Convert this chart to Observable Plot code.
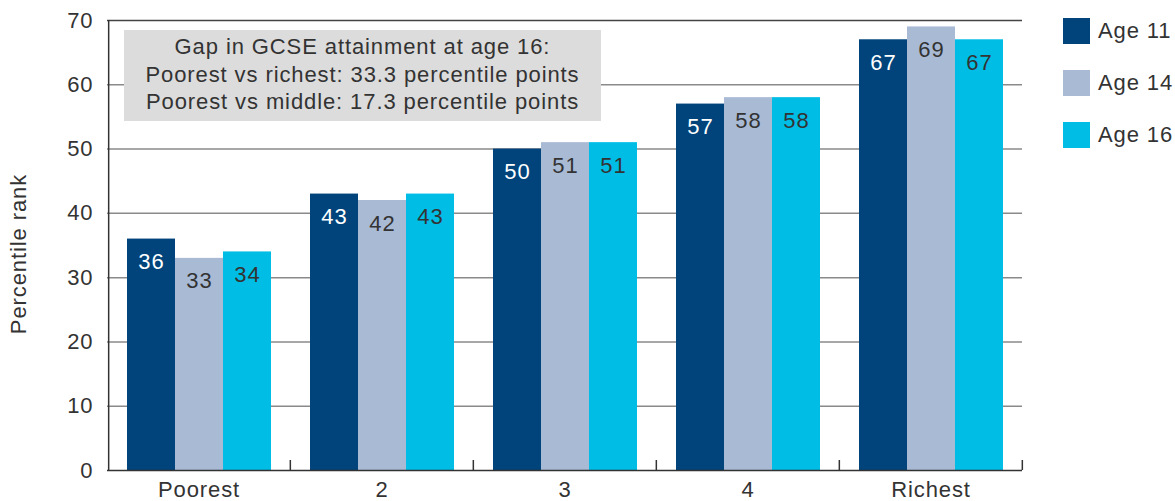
<!DOCTYPE html>
<html><head><meta charset="utf-8">
<script src="https://cdn.jsdelivr.net/npm/d3@7"></script>
<script src="https://cdn.jsdelivr.net/npm/@observablehq/plot@0.6"></script>
<style>
body{margin:0;background:#fff;font-family:"Liberation Sans",Arial,sans-serif;color:#333;}
#wrap{position:relative;width:1175px;height:501px;overflow:hidden;letter-spacing:0.9px}
#wrap svg{position:absolute;left:0;top:0}
#wrap svg text{letter-spacing:0.9px}
.note{position:absolute;left:124px;top:30px;width:477px;height:91px;background:#dcdcdc;text-align:center;font-size:22px;line-height:27.5px;padding-top:3px;box-sizing:border-box;color:#333;white-space:nowrap}
.ylab{position:absolute;left:19px;top:254px;transform:translate(-50%,-50%) rotate(-90deg);font-size:22px;white-space:nowrap;color:#333}
.leg{position:absolute;left:1063px;font-size:22px;color:#333;display:flex;align-items:center;height:26px;white-space:nowrap}
.leg span.sw{display:inline-block;width:27px;height:26px;margin-right:8px}
</style></head><body><div id="wrap"></div>
<script>
const groups = ["Poorest", "2", "3", "4", "Richest"];
const ages = ["Age 11", "Age 14", "Age 16"];
const age11 = [36, 43, 50, 57, 67];
const age14 = [33, 42, 51, 58, 69];
const age16 = [34, 43, 51, 58, 67];
const yTicks = [0, 10, 20, 30, 40, 50, 60, 70];
const noteLines = ["Gap in GCSE attainment at age 16:", "Poorest vs richest: 33.3 percentile points", "Poorest vs middle: 17.3 percentile points"];
const yLabel = "Percentile rank";

const colors = ["#00447b", "#a9bad5", "#00bde6"];
const labelColors = ["#ffffff", "#333333", "#333333"];

const series = [age11, age14, age16];
const data = [];
groups.forEach((g, i) => series.forEach((s, j) => data.push({group: g, age: ages[j], value: s[i]})));

const W = 1175, H = 501, ml = 107, mr = 153, mt = 20, mb = 31, pad = 0.38;
const fw = (W - ml - mr) / groups.length;
const step = fw / (ages.length + 2 * pad);
const edge = step * (0.5 + pad);
const pxPerUnit = (H - mt - mb) / (yTicks[yTicks.length - 1] - yTicks[0]);
const font = "'Liberation Sans', Arial, sans-serif";

const chart = Plot.plot({
  width: W, height: H,
  marginLeft: ml, marginRight: mr, marginTop: mt, marginBottom: mb,
  style: {fontFamily: font, fontSize: "22px", color: "#333", background: "transparent"},
  fx: {domain: groups, padding: 0, label: null, tickSize: 0, tickPadding: 11},
  x: {domain: ages, paddingInner: 0, paddingOuter: pad, axis: null},
  y: {domain: [0, 70], ticks: yTicks, tickSize: 0, tickPadding: 14, label: null},
  color: {domain: ages, range: colors},
  marks: [
    Plot.ruleY(yTicks.filter(v => v > 0 && v < 70), {stroke: "#8a8a8a", strokeWidth: 1.5}),
    Plot.ruleY([70], {stroke: "#444", strokeWidth: 1.5}),
    Plot.barY(data, {fx: "group", x: "age", y: "value", fill: "age"}),
    ...ages.map((a, j) => Plot.text(data.filter(d => d.age === a), {
      fx: "group", x: "age", y: "value", text: d => String(d.value),
      dy: 23, fill: labelColors[j], fontSize: 22, fontFamily: font
    })),
    Plot.ruleY([0], {stroke: "#333", strokeWidth: 1.5}),
    Plot.ruleX([groups[0]], {fx: d => d, x: () => ages[0], dx: -edge, y1: 0, y2: 70, stroke: "#333", strokeWidth: 1.5}),
    Plot.ruleX(groups, {fx: d => d, x: () => ages[ages.length - 1], dx: edge, y1: 0, y2: 10 / pxPerUnit, stroke: "#333", strokeWidth: 1.5})
  ]
});

const wrap = document.getElementById("wrap");
wrap.appendChild(chart);

const note = document.createElement("div");
note.className = "note";
note.innerHTML = noteLines.map(l => `<div>${l}</div>`).join("");
wrap.appendChild(note);

const yl = document.createElement("div");
yl.className = "ylab";
yl.textContent = yLabel;
wrap.appendChild(yl);

ages.forEach((a, j) => {
  const d = document.createElement("div");
  d.className = "leg";
  d.style.top = (18 + j * 52) + "px";
  d.innerHTML = `<span class="sw" style="background:${colors[j]}"></span><span>${a}</span>`;
  wrap.appendChild(d);
});
</script></body></html>
